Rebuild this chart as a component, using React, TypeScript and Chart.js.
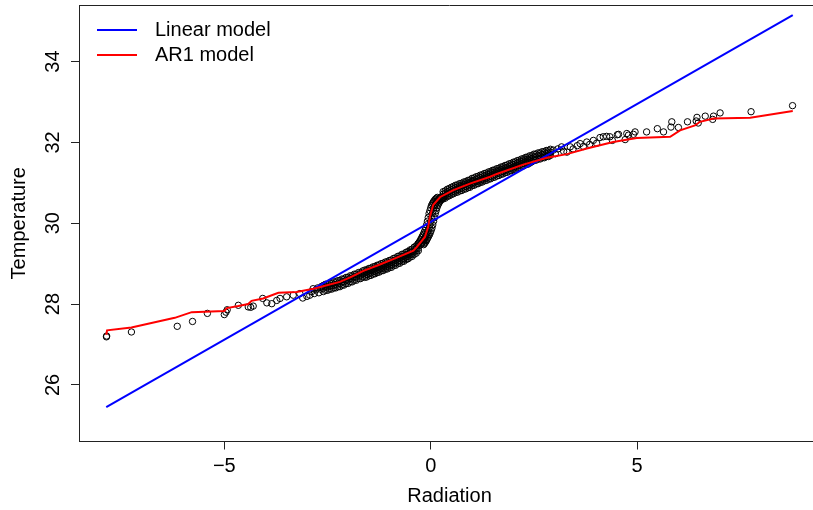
import React, { useEffect, useRef } from 'react';
import { Chart, registerables } from 'chart.js';

Chart.register(...registerables);

const FONT = '"Liberation Sans", Arial, Helvetica, sans-serif';

const xLimits = [-8.52, 9.43];
const yLimits = [24.6, 35.4];
const xTicks = [-5, 0, 5];
const yTicks = [26, 28, 30, 32, 34];

const seriesNames = ['Linear model', 'AR1 model'];
const seriesColors = ['#0000FF', '#FF0000'];

const linearRadiation = [-7.86, 8.77];
const linearTemperature = [25.45, 35.15];

const ar1Radiation = [
  -7.86, -7.84, -7.25, -6.2, -5.79, -5.0, -4.94, -4.66, -4.42, -4.34, -4.06, -3.69, -3.25, -2.84,
  -2.2, -1.95, -1.63, -1.23, -0.82, -0.42, -0.34, -0.14, -0.06, -0.02, 0.06, 0.23, 0.55, 0.95,
  1.44, 1.6, 2.24, 2.81, 3.3, 3.78, 4.42, 4.99, 5.8, 6.04, 6.4, 6.52, 6.85, 7.74, 8.77,
];
const ar1Temperature = [
  27.24, 27.35, 27.42, 27.66, 27.8, 27.83, 27.9, 27.95, 28.0, 28.08, 28.14, 28.28, 28.3, 28.38,
  28.55, 28.66, 28.82, 28.98, 29.15, 29.32, 29.41, 29.66, 29.91, 30.16, 30.45, 30.65, 30.82, 30.98,
  31.15, 31.22, 31.45, 31.62, 31.71, 31.85, 32.01, 32.11, 32.14, 32.3, 32.42, 32.51, 32.59, 32.61, 32.78,
];

// sparse observed (Radiation, Temperature) pairs in the tails
const tailObservations: [number, number][] = [
  [-7.855, 27.19], [-7.85, 27.21], [-7.25, 27.31], [-6.14, 27.45], [-5.77, 27.57], [-5.41, 27.77],
  [-5.0, 27.74], [-4.96, 27.8], [-4.93, 27.86], [-4.66, 27.97], [-4.42, 27.93], [-4.36, 27.92],
  [-4.3, 27.95], [-4.07, 28.14], [-3.97, 28.03], [-3.85, 28.01], [-3.73, 28.09], [-3.65, 28.14],
  [-3.49, 28.18], [-3.33, 28.22], [-3.17, 28.26], [-3.0, 28.19], [-3.1, 28.15],
  [-2.93, 28.22], [-2.88, 28.31], [-2.85, 28.38], [-2.82, 28.26], [-2.78, 28.35], [-2.74, 28.4],
  [-2.71, 28.28], [-2.67, 28.37], [-2.64, 28.44],
  [2.97, 31.81], [3.02, 31.72], [3.08, 31.84], [3.17, 31.89], [3.22, 31.78], [3.3, 31.76],
  [3.38, 31.89], [3.45, 31.84], [3.55, 31.92], [3.62, 31.97], [3.7, 31.9], [3.78, 32.01],
  [3.85, 31.95], [3.94, 32.05], [4.02, 31.98], [4.1, 32.12], [4.18, 32.14], [4.26, 32.15],
  [4.34, 32.14], [4.4, 32.05], [4.52, 32.19], [4.55, 32.2], [4.71, 32.07], [4.75, 32.22],
  [4.79, 32.18], [4.91, 32.2], [4.95, 32.26], [5.23, 32.26], [5.49, 32.34], [5.64, 32.26],
  [5.82, 32.38], [5.84, 32.51], [6.0, 32.37], [6.22, 32.51], [6.43, 32.53], [6.45, 32.62],
  [6.48, 32.48], [6.65, 32.65], [6.83, 32.57], [6.85, 32.65], [7.01, 32.73], [7.76, 32.76],
  [8.765, 32.91],
];

// dense band: [Radiation, Temperature, Temperature, ...] columns
const bandColumns: number[][] = [
  [-2.6, 28.31, 28.39, 28.46], [-2.55, 28.34, 28.42, 28.49], [-2.5, 28.34, 28.42, 28.49],
  [-2.45, 28.37, 28.45, 28.52], [-2.4, 28.37, 28.45, 28.52], [-2.35, 28.4, 28.48, 28.55],
  [-2.3, 28.4, 28.48, 28.55], [-2.25, 28.43, 28.51, 28.58], [-2.2, 28.43, 28.51, 28.58],
  [-2.15, 28.47, 28.55, 28.62], [-2.1, 28.47, 28.55, 28.62], [-2.05, 28.51, 28.59, 28.66],
  [-2.0, 28.51, 28.59, 28.66], [-1.95, 28.55, 28.63, 28.7], [-1.9, 28.55, 28.63, 28.7],
  [-1.85, 28.59, 28.67, 28.74], [-1.8, 28.59, 28.67, 28.74], [-1.75, 28.63, 28.71, 28.78],
  [-1.7, 28.63, 28.71, 28.78], [-1.65, 28.67, 28.75, 28.82],
  [-1.6, 28.66, 28.72, 28.78, 28.84], [-1.55, 28.67, 28.73, 28.79, 28.85],
  [-1.5, 28.7, 28.76, 28.82, 28.88], [-1.45, 28.71, 28.77, 28.83, 28.89],
  [-1.4, 28.74, 28.8, 28.86, 28.92], [-1.35, 28.75, 28.81, 28.87, 28.93],
  [-1.3, 28.78, 28.84, 28.9, 28.96], [-1.25, 28.79, 28.85, 28.91, 28.97],
  [-1.2, 28.82, 28.88, 28.94, 29.0], [-1.15, 28.83, 28.89, 28.95, 29.01],
  [-1.1, 28.86, 28.92, 28.98, 29.04], [-1.05, 28.87, 28.93, 28.99, 29.05],
  [-1.0, 28.9, 28.96, 29.02, 29.08], [-0.95, 28.91, 28.97, 29.03, 29.09],
  [-0.9, 28.95, 29.01, 29.07, 29.13], [-0.85, 28.96, 29.02, 29.08, 29.14],
  [-0.8, 29.0, 29.06, 29.12, 29.18], [-0.75, 29.01, 29.07, 29.13, 29.19],
  [-0.7, 29.05, 29.11, 29.17, 29.23], [-0.65, 29.06, 29.12, 29.18, 29.24],
  [-0.6, 29.1, 29.16, 29.22, 29.28], [-0.55, 29.12, 29.18, 29.24, 29.3],
  [-0.5, 29.16, 29.22, 29.28, 29.34], [-0.45, 29.18, 29.24, 29.3, 29.36],
  [-0.4, 29.23, 29.29, 29.35, 29.41], [-0.35, 29.26, 29.32, 29.38, 29.44],
  [-0.3, 29.32, 29.38, 29.44, 29.5],
  [0.3, 30.6, 30.66, 30.72, 30.78], [0.35, 30.62, 30.68, 30.74, 30.8],
  [0.4, 30.66, 30.72, 30.78, 30.84], [0.45, 30.68, 30.74, 30.8, 30.86],
  [0.5, 30.71, 30.77, 30.83, 30.89], [0.55, 30.73, 30.79, 30.85, 30.91],
  [0.6, 30.76, 30.82, 30.88, 30.94], [0.65, 30.77, 30.83, 30.89, 30.95],
  [0.7, 30.8, 30.86, 30.92, 30.98], [0.75, 30.81, 30.87, 30.93, 30.99],
  [0.8, 30.84, 30.9, 30.96, 31.02], [0.85, 30.85, 30.91, 30.97, 31.03],
  [0.9, 30.88, 30.94, 31.0, 31.06], [0.95, 30.89, 30.95, 31.01, 31.07],
  [1.0, 30.93, 30.99, 31.05, 31.11], [1.05, 30.94, 31.0, 31.06, 31.12],
  [1.1, 30.97, 31.03, 31.09, 31.15], [1.15, 30.98, 31.04, 31.1, 31.16],
  [1.2, 31.01, 31.07, 31.13, 31.19], [1.25, 31.02, 31.08, 31.14, 31.2],
  [1.3, 31.05, 31.11, 31.17, 31.23], [1.35, 31.06, 31.12, 31.18, 31.24],
  [1.4, 31.09, 31.15, 31.21, 31.27], [1.45, 31.1, 31.16, 31.22, 31.28],
  [1.5, 31.13, 31.19, 31.25, 31.31], [1.55, 31.14, 31.2, 31.26, 31.32],
  [1.6, 31.17, 31.23, 31.29, 31.35], [1.65, 31.18, 31.24, 31.3, 31.36],
  [1.7, 31.21, 31.27, 31.33, 31.39], [1.75, 31.22, 31.28, 31.34, 31.4],
  [1.8, 31.25, 31.31, 31.37, 31.43], [1.85, 31.26, 31.32, 31.38, 31.44],
  [1.9, 31.29, 31.35, 31.41, 31.47], [1.95, 31.3, 31.36, 31.42, 31.48],
  [2.0, 31.33, 31.39, 31.45, 31.51], [2.05, 31.34, 31.4, 31.46, 31.52],
  [2.1, 31.37, 31.43, 31.49, 31.55], [2.15, 31.38, 31.44, 31.5, 31.56],
  [2.2, 31.41, 31.47, 31.53, 31.59], [2.25, 31.42, 31.48, 31.54, 31.6],
  [2.3, 31.45, 31.51, 31.57, 31.63], [2.35, 31.46, 31.52, 31.58, 31.64],
  [2.4, 31.49, 31.55, 31.61, 31.67],
  [2.45, 31.52, 31.6, 31.67], [2.5, 31.56, 31.64, 31.71], [2.55, 31.56, 31.64, 31.71],
  [2.6, 31.59, 31.67, 31.74], [2.65, 31.59, 31.67, 31.74], [2.7, 31.62, 31.7, 31.77],
  [2.75, 31.62, 31.7, 31.77], [2.8, 31.65, 31.73, 31.8], [2.85, 31.65, 31.73, 31.8],
  [2.9, 31.68, 31.76, 31.83],
];

// steep middle part: [Temperature, Radiation, Radiation, Radiation] rows
const steepRows: number[][] = [
  [29.47, -0.32, -0.24, -0.17], [29.5, -0.3, -0.22, -0.15], [29.53, -0.28, -0.2, -0.13],
  [29.56, -0.26, -0.18, -0.11], [29.6, -0.24, -0.16, -0.09], [29.64, -0.22, -0.14, -0.07],
  [29.68, -0.2, -0.12, -0.05], [29.72, -0.18, -0.1, -0.03], [29.77, -0.16, -0.08, -0.01],
  [29.82, -0.14, -0.06, 0.01], [29.88, -0.12, -0.04, 0.03], [29.96, -0.1, -0.02, 0.05],
  [30.05, -0.08, 0.0, 0.07], [30.14, -0.06, 0.02, 0.09], [30.24, -0.04, 0.04, 0.11],
  [30.31, -0.02, 0.06, 0.13], [30.38, 0.0, 0.08, 0.15], [30.44, 0.02, 0.1, 0.17],
  [30.48, 0.04, 0.12, 0.19], [30.52, 0.06, 0.14, 0.21], [30.55, 0.08, 0.16, 0.23],
  [30.58, 0.1, 0.18, 0.25], [30.6, 0.12, 0.2, 0.27], [30.62, 0.14, 0.22, 0.29],
  [30.64, 0.16, 0.24, 0.31],
];

const observationPoints = [
  ...tailObservations.map(([x, y]) => ({ x, y })),
  ...bandColumns.flatMap(([x, ...ys]) => ys.map((y) => ({ x, y }))),
  ...steepRows.flatMap(([y, ...xs]) => xs.map((x) => ({ x, y }))),
];

const fmt = (v: number) => (v < 0 ? '\u2212' + Math.abs(v) : String(v));

const frameAndLegend = {
  id: 'frameAndLegend',
  afterDraw(chart: any) {
    const { ctx, chartArea } = chart;
    ctx.save();
    ctx.strokeStyle = '#222';
    ctx.lineWidth = 1;
    ctx.beginPath();
    ctx.moveTo(chartArea.left, chartArea.top + 0.5);
    ctx.lineTo(chartArea.right, chartArea.top + 0.5);
    ctx.moveTo(chartArea.right - 0.5, chartArea.top);
    ctx.lineTo(chartArea.right - 0.5, chartArea.bottom);
    ctx.stroke();
    const x0 = chartArea.left + 18;
    const y0 = chartArea.top + 25;
    ctx.font = '20px ' + FONT;
    ctx.textBaseline = 'middle';
    ctx.textAlign = 'left';
    ctx.fillStyle = '#000';
    seriesNames.forEach((name, i) => {
      const y = y0 + i * 25;
      ctx.strokeStyle = seriesColors[i];
      ctx.lineWidth = 2;
      ctx.beginPath();
      ctx.moveTo(x0, y);
      ctx.lineTo(x0 + 40, y);
      ctx.stroke();
      ctx.fillText(name, x0 + 58, y + 0.5);
    });
    ctx.restore();
  },
};

export default function App() {
  const ref = useRef<HTMLCanvasElement | null>(null);
  useEffect(() => {
    if (!ref.current) return;
    const chart = new Chart(ref.current, {
      type: 'scatter',
      data: {
        datasets: [
          {
            label: seriesNames[1],
            data: ar1Radiation.map((x, i) => ({ x, y: ar1Temperature[i] })),
            showLine: true,
            borderColor: seriesColors[1],
            borderWidth: 2,
            pointRadius: 0,
            fill: false,
          },
          {
            label: seriesNames[0],
            data: linearRadiation.map((x, i) => ({ x, y: linearTemperature[i] })),
            showLine: true,
            borderColor: seriesColors[0],
            borderWidth: 2,
            pointRadius: 0,
            fill: false,
          },
          {
            label: 'Observations',
            data: observationPoints,
            showLine: false,
            pointStyle: 'circle',
            pointRadius: 3.2,
            borderWidth: 1,
            borderColor: '#000',
            backgroundColor: 'rgba(0,0,0,0)',
          },
        ],
      },
      options: {
        responsive: false,
        animation: false,
        devicePixelRatio: 1,
        events: [],
        layout: { autoPadding: false, padding: { top: 5, left: 0, right: 0, bottom: 0 } },
        plugins: { legend: { display: false }, tooltip: { enabled: false } },
        scales: {
          x: {
            type: 'linear',
            position: 'bottom',
            min: xLimits[0],
            max: xLimits[1],
            afterBuildTicks: (s: any) => {
              s.ticks = xTicks.map((v) => ({ value: v }));
            },
            afterFit: (s: any) => {
              s.height = 68.5;
              s.paddingLeft = 0;
              s.paddingRight = 0;
            },
            grid: { drawOnChartArea: false, drawTicks: true, tickLength: 8, color: '#222', tickWidth: 1 },
            border: { display: true, color: '#222', width: 1 },
            ticks: {
              autoSkip: false,
              padding: 4.5,
              color: '#000',
              font: { family: FONT, size: 20 },
              callback: (v: any) => fmt(Number(v)),
            },
            title: {
              display: true,
              text: 'Radiation',
              color: '#000',
              font: { family: FONT, size: 20 },
              padding: { top: 0, bottom: 2 },
            },
          },
          y: {
            type: 'linear',
            position: 'left',
            min: yLimits[0],
            max: yLimits[1],
            afterBuildTicks: (s: any) => {
              s.ticks = yTicks.map((v) => ({ value: v }));
            },
            afterFit: (s: any) => {
              s.width = 79;
              s.paddingTop = 0;
              s.paddingBottom = 0;
            },
            grid: { drawOnChartArea: false, drawTicks: true, tickLength: 8, color: '#222', tickWidth: 1 },
            border: { display: true, color: '#222', width: 1 },
            ticks: {
              autoSkip: false,
              minRotation: 90,
              maxRotation: 90,
              crossAlign: 'center',
              padding: 6,
              color: '#000',
              font: { family: FONT, size: 20 },
              callback: (v: any) => fmt(Number(v)),
            },
            title: {
              display: true,
              text: 'Temperature',
              color: '#000',
              font: { family: FONT, size: 20 },
              padding: { top: 7, bottom: 0 },
            },
          },
        },
      },
      plugins: [frameAndLegend],
    } as any);
    return () => chart.destroy();
  }, []);
  return (
    <div style={{ position: 'absolute', left: 0, top: 0, width: 813, height: 510, overflow: 'hidden', background: '#fff' }}>
      <canvas ref={ref} width={820} height={510} style={{ display: 'block', width: 820, height: 510, maxWidth: 'none' }} />
    </div>
  );
}
